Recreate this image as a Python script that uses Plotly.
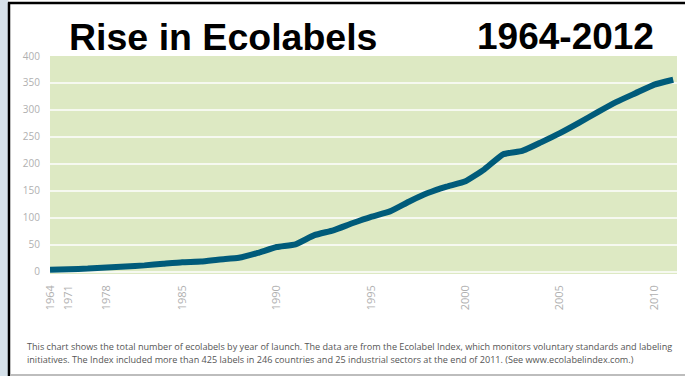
import plotly.graph_objects as go

years = [1964, 1971, 1975, 1978, 1980, 1982, 1984] + list(range(1985, 2012))
ecolabels = [4, 5, 6, 8, 10, 12, 15, 18, 19, 23, 26, 35, 46, 51, 68, 77, 90,
             102, 112, 130, 146, 158, 168, 190, 218, 224, 240, 257, 276, 296,
             315, 331, 347, 356]
tick_years = [1964, 1971, 1978, 1985, 1990, 1995, 2000, 2005, 2010]
y_ticks = [0, 50, 100, 150, 200, 250, 300, 350, 400]

title_left = "Rise in Ecolabels"
title_right = "1964-2012"
caption1 = ("This chart shows the total number of ecolabels by year of launch. The data are from the "
            "Ecolabel Index, which monitors voluntary standards and labeling")
caption2 = ("initiatives. The Index included more than 425 labels in 246 countries and 25 industrial "
            "sectors at the end of 2011. (See www.ecolabelindex.com.)")

W, H = 685, 376
L, R, T, B = 50, 8, 56, 102
PW, PH = W - L - R, H - T - B

def px(x):
    return (x - L) / PW

def py(y):
    return (H - B - y) / PH

idx = list(range(len(years)))
tickvals = [years.index(y) for y in tick_years]

fig = go.Figure()
fig.add_trace(go.Scatter(
    x=idx, y=ecolabels, mode="lines",
    line=dict(color="#005b7a", width=6, shape="spline", smoothing=0.4),
    hoverinfo="skip", showlegend=False,
))

fig.update_layout(
    width=W, height=H,
    margin=dict(l=L, r=R, t=T, b=B),
    paper_bgcolor="white",
    plot_bgcolor="#dde9c3",
    showlegend=False,
    xaxis=dict(
        range=[0, 33.2], tickmode="array", tickvals=tickvals,
        ticktext=[str(y) for y in tick_years], tickangle=-90,
        showgrid=False, zeroline=False, showline=False, ticks="",
        ticklabelstandoff=8,
        tickfont=dict(family="Open Sans", size=11, color="#b0b0b0"),
    ),
    yaxis=dict(
        range=[-4, 400], tickmode="array", tickvals=y_ticks,
        showgrid=True, gridcolor="#f6f9f0", gridwidth=2,
        zeroline=False, showline=False, ticks="",
        ticklabelstandoff=9,
        tickfont=dict(family="Open Sans", size=10, color="#b0b0b0"),
    ),
)

shapes = [
    dict(type="rect", xref="paper", yref="paper", x0=px(0), x1=px(8.5), y0=py(376), y1=py(0),
         fillcolor="#d5e1ea", line=dict(width=0), layer="below"),
    dict(type="line", xref="paper", yref="paper", x0=px(9), x1=px(9), y0=py(376), y1=py(2.5),
         line=dict(color="black", width=2.5)),
    dict(type="line", xref="paper", yref="paper", x0=px(8), x1=px(685), y0=py(3), y1=py(3),
         line=dict(color="black", width=2.5)),
    dict(type="line", xref="paper", yref="paper", x0=px(10), x1=px(685), y0=py(375), y1=py(375),
         line=dict(color="#bdbdbd", width=2)),
]
fig.update_layout(shapes=shapes)

annotations = [
    dict(text=f"<b>{title_left}</b>", xref="paper", yref="paper", x=px(67), y=py(37),
         xanchor="left", yanchor="middle", showarrow=False,
         font=dict(family="Liberation Sans", size=37.5, color="black")),
    dict(text=f"<b>{title_right}</b>", xref="paper", yref="paper", x=px(656), y=py(37),
         xanchor="right", yanchor="middle", showarrow=False,
         font=dict(family="Liberation Sans", size=37, color="black")),
    dict(text=caption1, xref="paper", yref="paper", x=px(25), y=py(346),
         xanchor="left", yanchor="middle", showarrow=False,
         font=dict(family="Open Sans", size=9.1, color="#555555")),
    dict(text=caption2, xref="paper", yref="paper", x=px(25), y=py(359),
         xanchor="left", yanchor="middle", showarrow=False,
         font=dict(family="Open Sans", size=9.1, color="#555555")),
]
fig.update_layout(annotations=annotations)

fig.write_html("out.html")
